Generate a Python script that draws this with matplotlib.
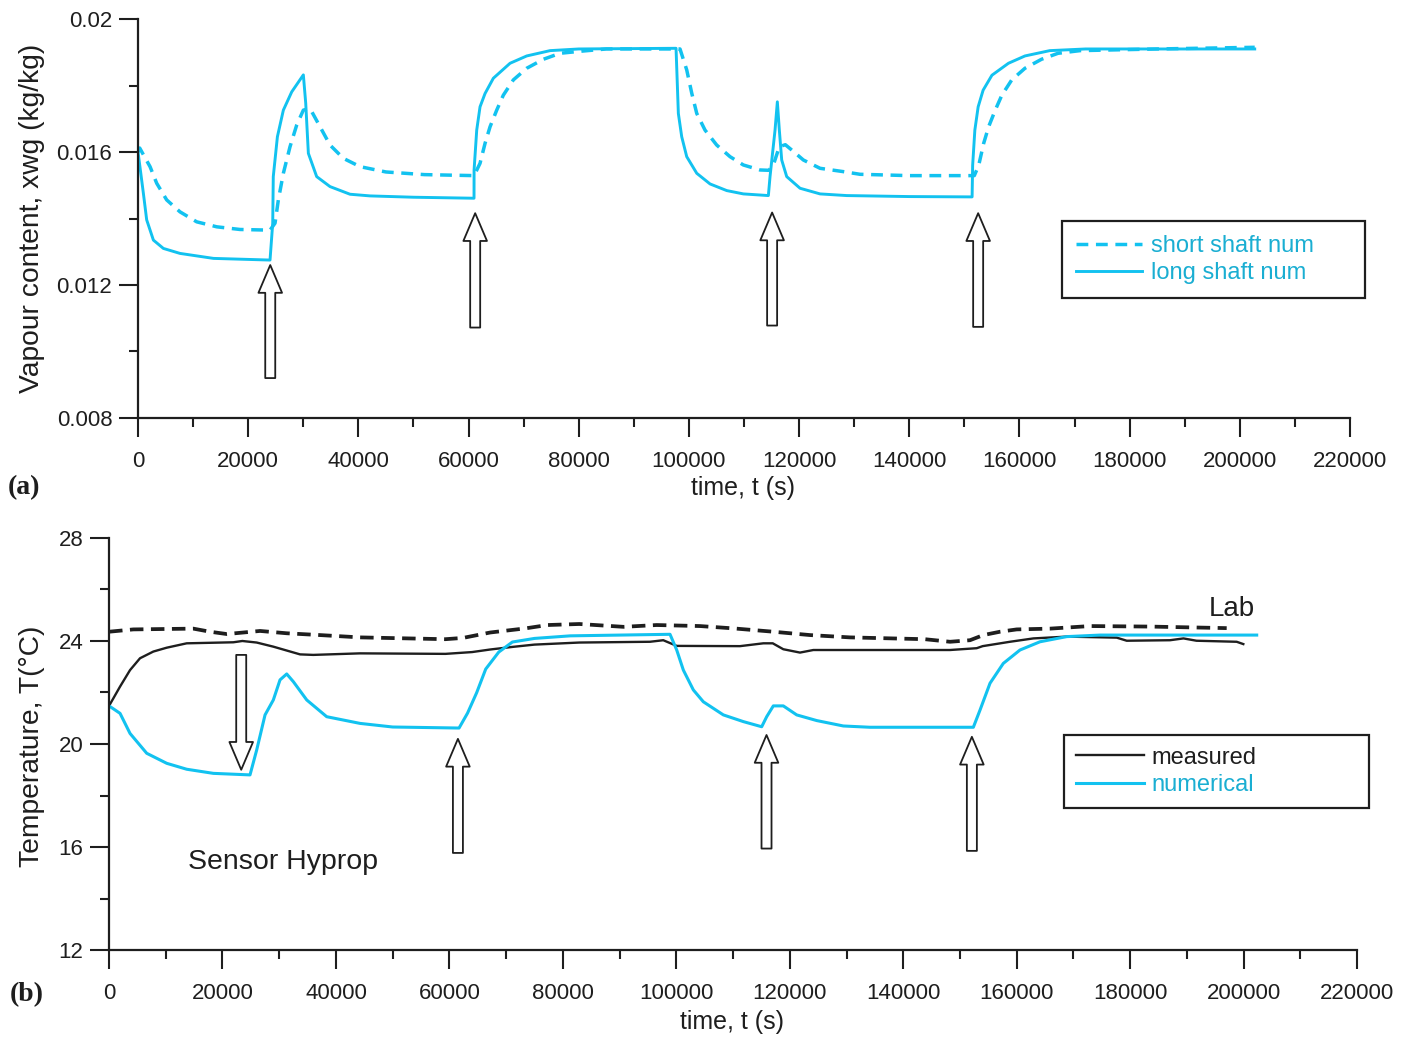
import matplotlib
matplotlib.use("Agg")
import matplotlib.pyplot as plt
from matplotlib.ticker import MultipleLocator

# ---------------- data: panel (a) vapour content ----------------
t_long = [0, 970, 1570, 2790, 4600, 7620, 13700, 23960,
          24450, 24550, 25300, 26380, 27900, 30010,
          30440, 30920, 32430, 34850, 38480, 42110, 50000, 60990,
          61000, 61480, 62080, 62990, 64500, 67530, 70560, 74790, 80000, 97660,
          97800, 98080, 98690, 99600, 101420, 103830, 106860, 109880, 114420,
          114720, 115630, 116050, 116410, 116840, 117750, 120170, 123800, 128640, 140000, 151400,
          151500, 151900, 152500, 153400, 155000, 158000, 161000, 165500, 172000, 202700]
x_long = [0.0160, 0.01476, 0.01396, 0.01335, 0.0131, 0.01295, 0.0128, 0.01275,
          0.01386, 0.01526, 0.01646, 0.01726, 0.01781, 0.01832,
          0.01747, 0.01596, 0.01526, 0.01496, 0.01473, 0.01468, 0.01464, 0.01461,
          0.01546, 0.01666, 0.01736, 0.01776, 0.01822, 0.01867, 0.01889, 0.01905, 0.0191, 0.01912,
          0.01847, 0.01716, 0.01646, 0.01586, 0.01536, 0.01504, 0.01484, 0.01474, 0.01469,
          0.01526, 0.01666, 0.01751, 0.01666, 0.01576, 0.01526, 0.01491, 0.01474, 0.01469, 0.01466, 0.01465,
          0.0156, 0.01666, 0.01736, 0.01786, 0.01831, 0.01867, 0.01889, 0.01905, 0.0191, 0.0191]

t_short = [0, 300, 2180, 3390, 5200, 7620, 10650, 14290, 18510, 23960,
           24870, 25470, 26380, 27590, 28800, 30010, 31220, 33040, 34850, 37270,
           40300, 45000, 52000, 61000, 62080, 62990, 63900, 65110, 66310, 68130,
           70560, 73580, 76600, 80230, 85000, 98380, 99600, 100510, 101420, 102920,
           105040, 107460, 109880, 112900, 114500, 115320, 116410, 117500, 118660, 120770,
           123800, 128030, 131060, 140000, 151800, 152600, 153500, 154400, 155600, 156800,
           158600, 161000, 164000, 167000, 171000, 185000, 202700]
x_short = [0.0160, 0.01612, 0.01556, 0.01506, 0.01456, 0.0142, 0.0139, 0.01375, 0.01367, 0.01365,
           0.01386, 0.01456, 0.01536, 0.01616, 0.01681, 0.01726, 0.01731, 0.01676, 0.01621, 0.01581,
           0.01556, 0.0154, 0.01532, 0.01529, 0.01566, 0.01626, 0.01676, 0.01726, 0.01771, 0.01817,
           0.01852, 0.01879, 0.01897, 0.01903, 0.0191, 0.0191, 0.01847, 0.01777, 0.01716, 0.01666,
           0.01621, 0.01586, 0.01561, 0.01546, 0.01545, 0.01561, 0.01616, 0.01622, 0.01606, 0.01576,
           0.01551, 0.01541, 0.01533, 0.01529, 0.01529, 0.0156, 0.01626, 0.01676, 0.01726, 0.01771,
           0.01817, 0.01852, 0.01879, 0.01897, 0.01905, 0.0191, 0.01915]

arrow_t_a = [24000, 61200, 115100, 152500]
arrow_tip_a = [0.01260, 0.01416, 0.01418, 0.01416]
arrow_base_a = [0.00920, 0.01072, 0.01078, 0.01074]

# ---------------- data: panel (b) temperature ----------------
t_num = [0, 1940, 3700, 6640, 10170, 13690, 18390, 24850,
         26030, 27500, 28960, 30140, 31320, 32490, 34850, 38370, 44250, 50000,
         61700, 63200, 64800, 66400, 68700, 71100, 75000, 81300, 98890,
         100070, 101240, 103000, 104760, 108290, 111810, 115050, 115930, 117100, 118860,
         121220, 124750, 129440, 134140, 152360, 153540, 155300, 157640, 160580, 164110,
         168820, 174690, 202310]
T_num = [21.48, 21.19, 20.41, 19.64, 19.25, 19.02, 18.86, 18.80,
         19.77, 21.13, 21.71, 22.49, 22.72, 22.42, 21.71, 21.06, 20.80, 20.66,
         20.62, 21.2, 21.99, 22.91, 23.57, 23.96, 24.1, 24.2, 24.26,
         23.65, 22.87, 22.10, 21.64, 21.13, 20.87, 20.67, 21.06, 21.48, 21.48,
         21.13, 20.91, 20.70, 20.65, 20.65, 21.32, 22.36, 23.13, 23.65, 23.97,
         24.17, 24.23, 24.23]

t_meas = [0, 1940, 3700, 5460, 7810, 10170, 13690, 21910, 23500, 26030,
          28960, 33670, 36000, 44250, 59300, 64000, 67200, 71100, 75000, 82900,
          95360, 97700, 100070, 111230, 115340, 117000, 118860, 121800, 124150, 148250,
          152950, 154000, 158820, 162930, 168820, 177640, 179400, 187030, 189400, 191700,
          198780, 199950]
T_meas = [21.48, 22.23, 22.87, 23.33, 23.59, 23.74, 23.91, 23.95, 24.0, 23.94,
          23.78, 23.48, 23.46, 23.52, 23.5, 23.57, 23.67, 23.77, 23.86, 23.94,
          23.97, 24.03, 23.81, 23.80, 23.91, 23.91, 23.68, 23.55, 23.65, 23.65,
          23.72, 23.8, 23.97, 24.10, 24.17, 24.13, 24.01, 24.03, 24.1, 24.01,
          23.97, 23.88]

t_lab = [0, 4280, 14860, 17800, 20750, 26620, 31320, 37190, 44250, 59300,
         62400, 67200, 73400, 77300, 82900, 90700, 96540, 104180, 110050, 117100,
         123570, 130620, 143800, 148250, 151770, 154120, 157060, 160000, 165870, 172920,
         183500, 197020]
T_lab = [24.36, 24.45, 24.48, 24.36, 24.27, 24.39, 24.30, 24.23, 24.14, 24.07,
         24.12, 24.33, 24.49, 24.62, 24.66, 24.55, 24.62, 24.58, 24.49, 24.36,
         24.23, 24.14, 24.07, 23.97, 24.03, 24.23, 24.36, 24.45, 24.48, 24.58,
         24.56, 24.5]

arrow_t_b = [23300, 61500, 115900, 152100]
arrow_tip_b = [19.0, 20.2, 20.35, 20.28]
arrow_base_b = [23.46, 15.77, 15.94, 15.85]

# ---------------- style ----------------
FONT = "Liberation Sans"
fs = 16
plt.rcParams["font.family"] = [FONT, "DejaVu Sans"]

CYAN = "#12c2f0"
CYAN_TXT = "#1aaed2"
INK = "#1e1e1e"

fig = plt.figure(figsize=(14.07, 10.41), dpi=100)
axA = fig.add_axes([0.0981, 0.5985, 0.8614, 0.3832])
axB = fig.add_axes([0.0775, 0.0874, 0.8870, 0.3958])


def style_axis(ax):
    for s in ("top", "right"):
        ax.spines[s].set_visible(False)
    for s in ("left", "bottom"):
        ax.spines[s].set_linewidth(1.6)
        ax.spines[s].set_color(INK)
    ax.tick_params(which="major", direction="out", length=13.5, width=1.5,
                   labelsize=fs, color=INK, labelcolor=INK)
    ax.tick_params(which="minor", direction="out", length=6.5, width=1.5, color=INK)
    ax.tick_params(axis="x", which="major", pad=10)
    ax.tick_params(axis="y", which="major", pad=5)
    ax.set_xlim(0, 220000)
    ax.xaxis.set_major_locator(MultipleLocator(20000))
    ax.xaxis.set_minor_locator(MultipleLocator(10000))


def block_arrow(ax, t, tip, base):
    ax.annotate("", xy=(t, tip), xytext=(t, base), xycoords="data",
                arrowprops=dict(arrowstyle="simple,head_length=2.0,head_width=1.7,tail_width=0.72",
                                fc="white", ec=INK, lw=1.3,
                                shrinkA=0, shrinkB=0, mutation_scale=10))


# ---- panel (a)
style_axis(axA)
axA.set_ylim(0.008, 0.02)
axA.yaxis.set_minor_locator(MultipleLocator(0.002))
axA.set_yticks([0.008, 0.012, 0.016, 0.02])
axA.set_yticklabels(["0.008", "0.012", "0.016", "0.02"])
axA.plot(t_short, x_short, color=CYAN, lw=2.5, ls=(0, (3.4, 2.2)), label="short shaft num")
axA.plot(t_long, x_long, color=CYAN, lw=2.1, label="long shaft num")
for t, tip, base in zip(arrow_t_a, arrow_tip_a, arrow_base_a):
    block_arrow(axA, t, tip, base)
axA.set_xlabel("time, t (s)", fontsize=18, color=INK)
axA.xaxis.set_label_coords(0.499, -0.145)
axA.set_ylabel("Vapour content, xwg (kg/kg)", fontsize=20.3, color=INK)
axA.yaxis.set_label_coords(-0.077, 0.5)
legA = axA.legend(loc="upper left", bbox_to_anchor=(0.762, 0.301, 0.25, 0.193), mode="expand",
                  borderaxespad=0, fancybox=False, framealpha=1, edgecolor=INK, fontsize=17,
                  handlelength=2.8, handletextpad=0.4, borderpad=0.6, labelspacing=0.22,
                  labelcolor=CYAN_TXT)
legA.get_frame().set_linewidth(1.6)

# ---- panel (b)
style_axis(axB)
axB.set_ylim(12, 28)
axB.yaxis.set_major_locator(MultipleLocator(4))
axB.yaxis.set_minor_locator(MultipleLocator(2))
axB.plot(t_lab, T_lab, color=INK, lw=2.7, ls=(0, (3.6, 2.0)))
axB.plot(t_meas, T_meas, color=INK, lw=1.7, label="measured")
axB.plot(t_num, T_num, color=CYAN, lw=2.2, label="numerical")
for t, tip, base in zip(arrow_t_b, arrow_tip_b, arrow_base_b):
    block_arrow(axB, t, tip, base)
axB.text(30700, 15.42, "Sensor Hyprop", fontsize=20.5, ha="center", va="center", color=INK)
axB.text(197900, 25.24, "Lab", fontsize=20, ha="center", va="center", color=INK)
axB.set_xlabel("time, t (s)", fontsize=18, color=INK)
axB.xaxis.set_label_coords(0.499, -0.145)
axB.set_ylabel("Temperature, T(°C)", fontsize=20.3, color=INK)
axB.yaxis.set_label_coords(-0.051, 0.495)
legB = axB.legend(loc="upper left", bbox_to_anchor=(0.765, 0.345, 0.2444, 0.177), mode="expand",
                  borderaxespad=0, fancybox=False, framealpha=1, edgecolor=INK, fontsize=17,
                  handlelength=2.9, handletextpad=0.3, borderpad=0.5, labelspacing=0.22,
                  labelcolor=[INK, CYAN_TXT])
legB.get_frame().set_linewidth(1.6)

fig.text(0.0057, 0.532, "(a)", fontsize=20, family="Liberation Serif", weight="bold",
         ha="left", va="center", color=INK)
fig.text(0.0070, 0.0442, "(b)", fontsize=20, family="Liberation Serif", weight="bold",
         ha="left", va="center", color=INK)

fig.savefig("out.png", dpi=100, facecolor="white")
